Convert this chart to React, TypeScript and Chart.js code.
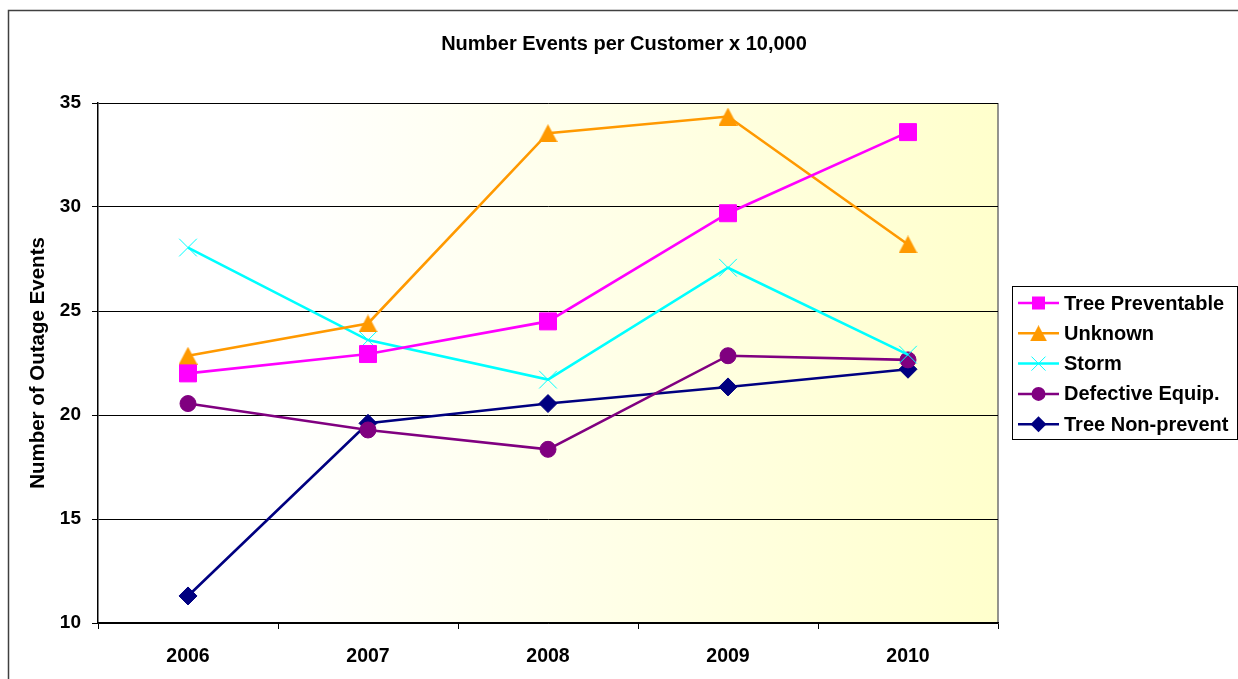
import React, { useEffect, useRef } from 'react';
import { Chart, registerables } from 'chart.js';

Chart.register(...registerables);

const chartTitle = 'Number Events per Customer x 10,000';
const yAxisTitle = 'Number of Outage Events';
const years = ['2006', '2007', '2008', '2009', '2010'];
const treePreventable = [22.0, 22.93, 24.5, 29.7, 33.6];
const unknown = [22.85, 24.4, 33.55, 34.35, 28.2];
const storm = [28.05, 23.6, 21.7, 27.08, 22.9];
const defectiveEquip = [20.55, 19.28, 18.35, 22.85, 22.65];
const treeNonPrevent = [11.3, 19.6, 20.55, 21.35, 22.2];
const yTickValues = [10, 15, 20, 25, 30, 35];

const FONT = '"Liberation Sans", Arial, sans-serif';

function makeTriangle(color: string, w: number, h: number): HTMLCanvasElement {
  const c = document.createElement('canvas');
  c.width = w;
  c.height = h;
  const ctx = c.getContext('2d')!;
  ctx.fillStyle = color;
  ctx.beginPath();
  ctx.moveTo(w / 2, 0);
  ctx.lineTo(w, h);
  ctx.lineTo(0, h);
  ctx.closePath();
  ctx.fill();
  return c;
}

export default function App() {
  const ref = useRef<HTMLCanvasElement | null>(null);

  useEffect(() => {
    if (!ref.current) return;
    const tri = makeTriangle('#FF9900', 19, 18);
    const triSmall = makeTriangle('#FF9900', 17, 16);

    const series = [
      { label: 'Tree Preventable', data: treePreventable, color: '#FF00FF', style: 'rect', radius: 12, bw: 1 },
      { label: 'Unknown', data: unknown, color: '#FF9900', style: tri, radius: 10, bw: 1 },
      { label: 'Storm', data: storm, color: '#00FFFF', style: 'crossRot', radius: 12.5, bw: 1 },
      { label: 'Defective Equip.', data: defectiveEquip, color: '#800080', style: 'circle', radius: 8, bw: 1 },
      { label: 'Tree Non-prevent', data: treeNonPrevent, color: '#000080', style: 'rectRot', radius: 9, bw: 1 },
    ];

    const bgPlugin = {
      id: 'bgPlugin',
      beforeDraw(chart: any) {
        const { ctx, chartArea: a } = chart;
        ctx.save();
        ctx.strokeStyle = '#404040';
        ctx.lineWidth = 1.5;
        ctx.strokeRect(8.5, 10.5, 1300, 700);
        const g = ctx.createLinearGradient(a.left, 0, a.right, 0);
        g.addColorStop(0, '#FFFFFF');
        g.addColorStop(0.2, '#FFFFFF');
        g.addColorStop(1, '#FFFFCC');
        ctx.fillStyle = g;
        ctx.fillRect(a.left, a.top, a.right - a.left, a.bottom - a.top);
        ctx.strokeStyle = '#707070';
        ctx.lineWidth = 1.5;
        ctx.beginPath();
        ctx.moveTo(a.right, a.top);
        ctx.lineTo(a.right, a.bottom);
        ctx.stroke();
        ctx.restore();
      },
      afterDraw(chart: any) {
        const { ctx } = chart;
        ctx.save();
        ctx.fillStyle = '#000';
        ctx.font = `bold 20px ${FONT}`;
        ctx.textAlign = 'center';
        ctx.textBaseline = 'middle';
        ctx.fillText(chartTitle, 624, 44);

        const lx = 1012, ly = 286, lw = 225, lh = 153;
        ctx.fillStyle = '#FFFFFF';
        ctx.fillRect(lx, ly, lw, lh);
        ctx.strokeStyle = '#000';
        ctx.lineWidth = 1;
        ctx.strokeRect(lx + 0.5, ly + 0.5, lw, lh);
        series.forEach((s, i) => {
          const cy = 303 + i * 30.3;
          ctx.strokeStyle = s.color;
          ctx.lineWidth = 2.5;
          ctx.beginPath();
          ctx.moveTo(1018, cy);
          ctx.lineTo(1059, cy);
          ctx.stroke();
          const mx = 1038.5;
          ctx.fillStyle = s.color;
          ctx.strokeStyle = s.color;
          ctx.beginPath();
          if (s.style === 'rect') {
            ctx.fillRect(mx - 6.5, cy - 6.5, 13, 13);
          } else if (s.style === 'crossRot') {
            ctx.lineWidth = 1;
            ctx.moveTo(mx - 7, cy - 7);
            ctx.lineTo(mx + 7, cy + 7);
            ctx.moveTo(mx + 7, cy - 7);
            ctx.lineTo(mx - 7, cy + 7);
            ctx.stroke();
          } else if (s.style === 'circle') {
            ctx.arc(mx, cy, 7, 0, Math.PI * 2);
            ctx.fill();
          } else if (s.style === 'rectRot') {
            ctx.moveTo(mx, cy - 8);
            ctx.lineTo(mx + 8, cy);
            ctx.lineTo(mx, cy + 8);
            ctx.lineTo(mx - 8, cy);
            ctx.closePath();
            ctx.fill();
          } else {
            ctx.drawImage(triSmall, mx - 8.5, cy - 8);
          }
          ctx.fillStyle = '#000';
          ctx.font = `bold 20px ${FONT}`;
          ctx.textAlign = 'left';
          ctx.textBaseline = 'middle';
          ctx.fillText(s.label, 1064, cy + 1);
        });
        ctx.restore();
      },
    };

    const chart = new Chart(ref.current, {
      type: 'line',
      data: {
        labels: years,
        datasets: series.map((s) => ({
          label: s.label,
          data: s.data,
          borderColor: s.color,
          backgroundColor: s.color,
          borderWidth: 2.6,
          pointStyle: s.style as any,
          pointRadius: s.radius,
          pointBorderWidth: s.bw,
          pointBackgroundColor: s.color,
          pointBorderColor: s.color,
          tension: 0,
          fill: false,
        })),
      },
      options: {
        animation: false,
        responsive: false,
        maintainAspectRatio: false,
        layout: { padding: { left: 10, top: 103, right: 240, bottom: 0 } },
        plugins: {
          legend: { display: false },
          title: { display: false },
          tooltip: { enabled: false },
        },
        scales: {
          x: {
            type: 'category',
            offset: true,
            grid: {
              offset: true,
              drawOnChartArea: false,
              drawTicks: true,
              tickLength: 6,
              color: '#000',
            },
            border: { display: true, color: '#000', width: 1.5 },
            ticks: {
              color: '#000',
              font: { family: FONT, size: 19.5, weight: 'bold' },
              padding: 16,
              maxRotation: 0,
            },
            afterFit(scale: any) {
              scale.height = 56;
            },
          },
          y: {
            type: 'linear',
            min: 10,
            max: 35,
            afterBuildTicks(scale: any) {
              scale.ticks = yTickValues.map((v) => ({ value: v }));
            },
            grid: {
              drawOnChartArea: true,
              drawTicks: true,
              tickLength: 6,
              color: '#000',
              lineWidth: 1,
            },
            border: { display: true, color: '#000', width: 1.5 },
            ticks: {
              color: '#000',
              font: { family: FONT, size: 19, weight: 'bold' },
              padding: 11,
            },
            title: {
              display: true,
              text: yAxisTitle,
              color: '#000',
              font: { family: FONT, size: 20.5, weight: 'bold' },
              padding: { top: 16, bottom: 0 },
            },
            afterFit(scale: any) {
              scale.width = 88;
            },
          },
        },
      },
      plugins: [bgPlugin],
    });
    return () => chart.destroy();
  }, []);

  return (
    <div style={{ position: 'absolute', left: 0, top: 0, width: 1238, height: 679, background: '#fff' }}>
      <canvas ref={ref} width={1238} height={679} style={{ display: 'block', width: 1238, height: 679 }} />
    </div>
  );
}
